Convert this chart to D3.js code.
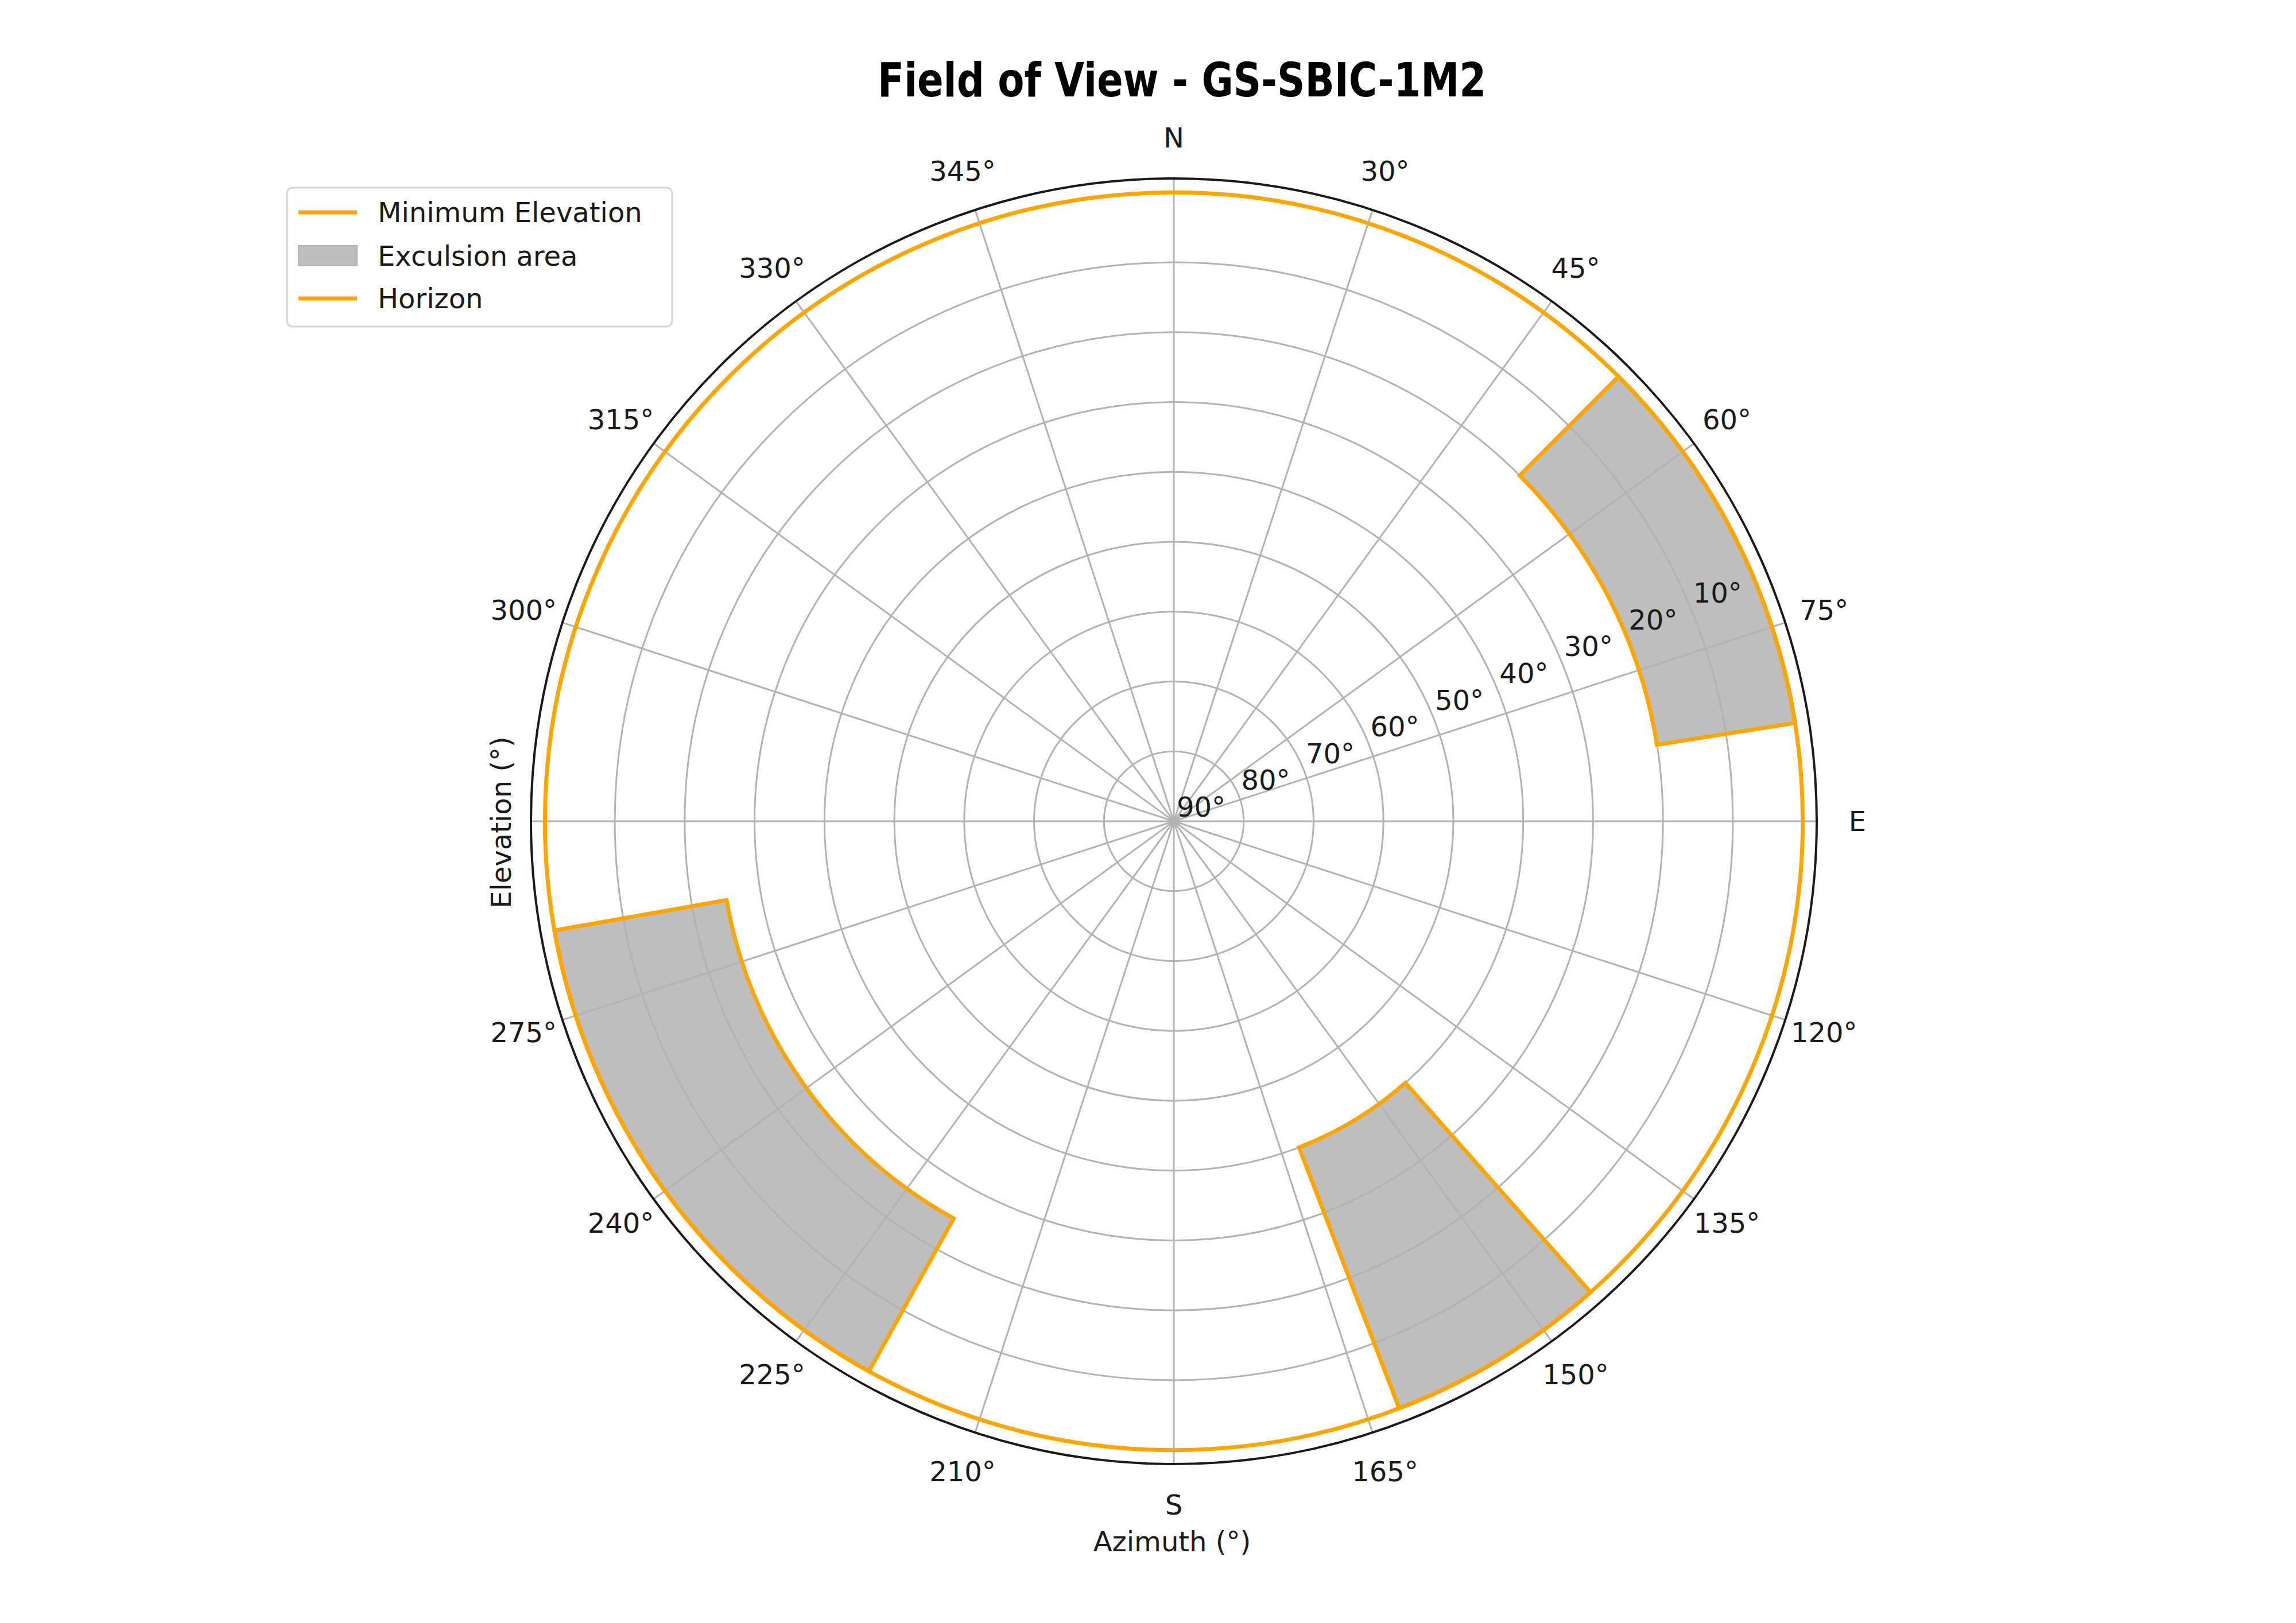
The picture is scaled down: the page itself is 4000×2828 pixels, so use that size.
<!DOCTYPE html>
<html>
<head>
<meta charset="utf-8">
<script src="https://cdn.jsdelivr.net/npm/d3@7"></script>
<style>
  body { margin: 0; background: #fff; }
  text { font-family: 'DejaVu Sans', sans-serif; fill: #1a1a1a; }
</style>
</head>
<body>
<div id="chart"></div>
<script>
// chart data
// -----------------------------------------------
const azimuthTicks = d3.range(0, 360, 18);
const azimuthLabels = ['N', '30°', '45°', '60°', '75°', 'E', '120°', '135°', '150°', '165°',
  'S', '210°', '225°', '240°', '275°', '', '300°', '315°', '330°', '345°'];
const elevationTicks = [90, 80, 70, 60, 50, 40, 30, 20, 10];

// exclusion areas: start / end azimuth and max elevation
const exclStart = [45, 138.5, 209];
const exclEnd = [81, 159, 260];
const exclElev = [20, 40, 25];

const legendItems = ['Minimum Elevation', 'Exculsion area', 'Horizon'];

// layout
// -----------------------------------------------
const width = 4000, height = 2828;
const cx = 2045, cy = 1431, outerR = 1120;
const orange = '#ffa500';

const svg = d3.select('#chart').append('svg')
  .attr('width', width).attr('height', height)
  .attr('viewBox', [0, 0, width, height]);

// r axis goes from 90 deg elevation (centre) out to -2 (edge)
const r = d3.scaleLinear().domain([90, -2]).range([0, outerR]);
const rad = (d) => (d * Math.PI) / 180;
const px = (az, el) => cx + r(el) * Math.sin(rad(az));
const py = (az, el) => cy - r(el) * Math.cos(rad(az));

const g = svg.append('g');

// exclusion fills
const arc = d3.arc();
const areas = exclStart.map((s, i) => ({ s, e: exclEnd[i], el: exclElev[i] }));
g.append('g').selectAll('path')
  .data(areas)
  .join('path')
  .attr('transform', `translate(${cx},${cy})`)
  .attr('d', (d) => arc({ innerRadius: r(d.el), outerRadius: r(0), startAngle: rad(d.s), endAngle: rad(d.e) }))
  .attr('fill', '#bebebe');

// grid
const grid = g.append('g').attr('stroke', '#b3b3b3').attr('stroke-width', 3).attr('fill', 'none');
grid.selectAll('circle')
  .data(elevationTicks.slice(1).concat([0]))
  .join('circle')
  .attr('cx', cx).attr('cy', cy)
  .attr('r', (d) => r(d));
grid.selectAll('line')
  .data(azimuthTicks)
  .join('line')
  .attr('x1', cx).attr('y1', cy)
  .attr('x2', (d) => px(d, -2)).attr('y2', (d) => py(d, -2));

// outer frame
g.append('circle')
  .attr('cx', cx).attr('cy', cy).attr('r', outerR)
  .attr('fill', 'none').attr('stroke', '#1a1a1a').attr('stroke-width', 4);

// horizon
g.append('circle')
  .attr('cx', cx).attr('cy', cy).attr('r', r(0))
  .attr('fill', 'none').attr('stroke', orange).attr('stroke-width', 7);

// minimum elevation outlines
g.append('g').selectAll('path')
  .data(areas)
  .join('path')
  .attr('transform', `translate(${cx},${cy})`)
  .attr('d', (d) => arc({ innerRadius: r(d.el), outerRadius: r(0), startAngle: rad(d.s), endAngle: rad(d.e) }))
  .attr('fill', 'none')
  .attr('stroke', orange)
  .attr('stroke-width', 7)
  .attr('stroke-linejoin', 'miter');

// azimuth labels
const labelR = 1191;
g.append('g').selectAll('text')
  .data(azimuthTicks)
  .join('text')
  .attr('x', (d) => cx + labelR * Math.sin(rad(d)))
  .attr('y', (d) => cy - labelR * Math.cos(rad(d)))
  .attr('text-anchor', 'middle')
  .attr('dominant-baseline', 'central')
  .attr('font-size', 48)
  .text((d, i) => azimuthLabels[i]);

// elevation labels along 67.5 deg
g.append('g').selectAll('text')
  .data(elevationTicks)
  .join('text')
  .attr('x', (d) => px(67.5, d) + 5)
  .attr('y', (d) => py(67.5, d) - 8)
  .attr('font-size', 48)
  .text((d) => d + '°');

// axis titles
svg.append('text')
  .attr('transform', 'translate(890,1433) rotate(-90)')
  .attr('text-anchor', 'middle')
  .attr('font-size', 48)
  .text('Elevation (°)');
svg.append('text')
  .attr('x', 2042).attr('y', 2703)
  .attr('text-anchor', 'middle')
  .attr('font-size', 48)
  .text('Azimuth (°)');

// title
svg.append('text')
  .attr('x', 2059).attr('y', 168)
  .attr('text-anchor', 'middle')
  .attr('font-family', 'Roboto, sans-serif')
  .attr('font-weight', 900)
  .attr('font-size', 82)
  .attr('textLength', 1060)
  .attr('lengthAdjust', 'spacingAndGlyphs')
  .style('fill', '#000')
  .text('Field of View - GS-SBIC-1M2');

// legend
const lg = svg.append('g').attr('transform', 'translate(500,327)');
lg.append('rect')
  .attr('width', 671).attr('height', 242).attr('rx', 10)
  .attr('fill', '#fff').attr('stroke', '#d6d6d6').attr('stroke-width', 3);
const rowY = [43, 119, 193];
legendItems.forEach((name, i) => {
  if (i === 1) {
    lg.append('rect')
      .attr('x', 20).attr('y', rowY[i] - 18).attr('width', 102).attr('height', 35)
      .attr('fill', '#bebebe').attr('stroke', '#b5b5b5').attr('stroke-width', 2);
  } else {
    lg.append('line')
      .attr('x1', 20).attr('x2', 122).attr('y1', rowY[i]).attr('y2', rowY[i])
      .attr('stroke', orange).attr('stroke-width', 7);
  }
  lg.append('text')
    .attr('x', 158).attr('y', rowY[i])
    .attr('dominant-baseline', 'central')
    .attr('font-size', 48)
    .text(name);
});
</script>
</body>
</html>
